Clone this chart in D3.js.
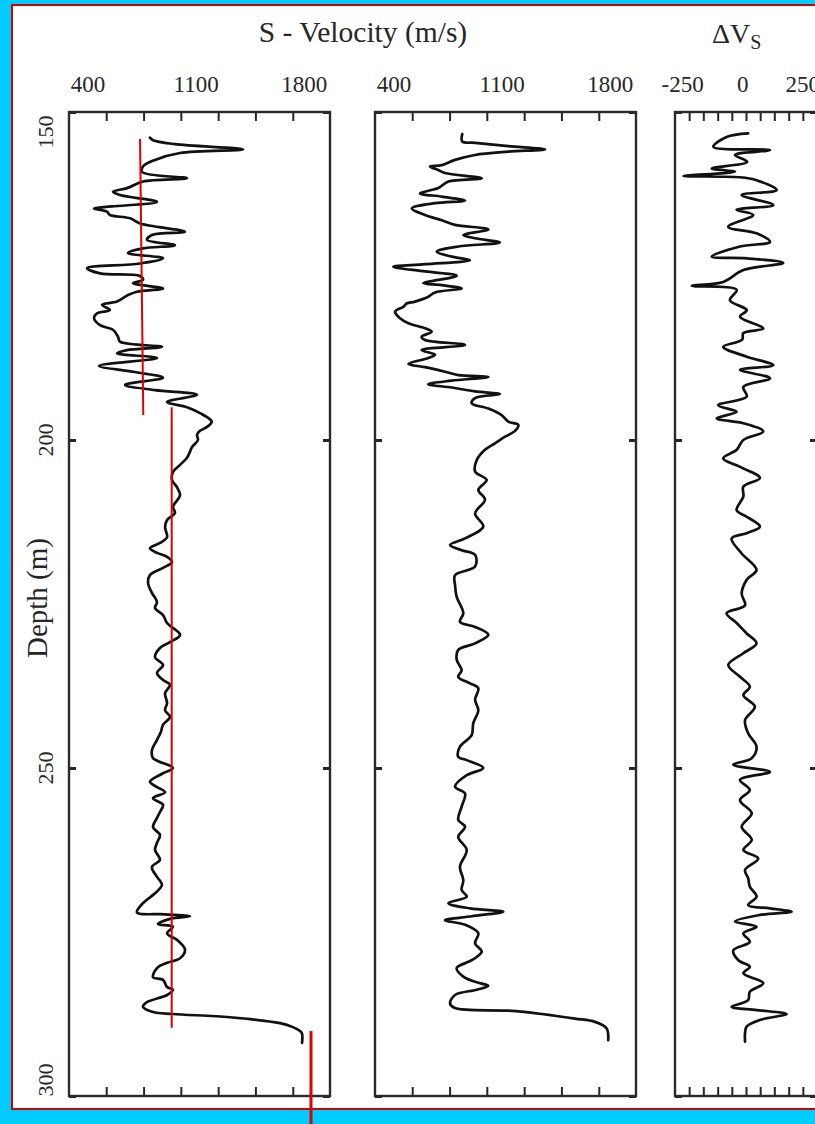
<!DOCTYPE html>
<html><head><meta charset="utf-8">
<script src="https://d3js.org/d3.v7.min.js"></script>
<style>
  body { margin: 0; background: #00ccff; }
  svg { display: block; }
</style>
</head><body>
<script>
// S-velocity log, left panel: depth (m) / Vs (m/s)
const depthA = [153.9,154.3,154.9,155.7,156.25,157.3,158.3,159.15,160.1,160.6,161.6,162.15,162.65,163.7,164.4,164.7,165.2,165.7,166.2,167.0,
  168.25,168.75,169.5,170.3,170.8,171.5,172.3,173.1,173.8,174.6,175.0,175.6,176.1,176.9,177.4,177.9,178.9,179.4,180.2,180.7,
  181.4,182.5,183.2,184.25,185.0,185.8,186.3,186.8,187.5,188.7,189.6,190.5,191.6,192.4,193.1,194.2,195.0,195.9,197.2,198.0,
  198.6,199.2,200.0,201.1,201.8,202.7,203.8,204.9,206.1,207.2,208.4,210.2,211.1,212.2,213.3,214.8,215.7,216.5,217.2,217.8,
  218.6,219.5,220.6,221.8,223.3,224.7,225.6,226.7,227.9,229.7,230.8,231.7,233.1,234.3,235.5,236.6,237.3,238.6,240.1,241.2,
  242.2,243.4,244.5,245.7,247.3,248.5,250.0,250.8,252.1,252.9,253.7,254.6,255.6,256.7,257.6,259.0,260.2,261.4,262.5,264.0,
  265.1,266.6,267.8,269.1,270.6,272.0,272.3,272.6,273.0,273.8,274.2,275.2,276.2,277.7,279.0,279.7,280.5,281.9,282.3,283.4,
  283.8,284.6,285.7,286.4,287.2,287.5,288.0,288.9,289.5,290.1,290.5,291.9];
const vsA = [804,824,966,1407,999,837,759,753,1044,759,656,565,610,850,558,442,526,545,675,740,
  1031,817,785,966,759,662,889,740,397,481,740,759,694,889,720,662,591,494,545,461,
  442,481,565,597,610,882,656,591,850,474,694,889,643,837,1109,915,1044,1128,1204,1174,
  1128,1109,1115,1076,1063,1044,999,953,947,979,999,953,966,915,902,915,869,804,850,915,
  947,889,804,792,817,850,837,889,915,999,934,869,837,889,850,889,934,902,915,902,
  934,889,875,850,817,824,953,889,804,850,902,824,889,869,850,824,869,850,837,869,
  817,850,882,837,759,720,902,1063,934,856,953,915,979,1031,999,915,850,824,889,915,
  953,915,785,759,824,953,1322,1646,1730,1776,1789,1789];

// S-velocity log, middle panel
const depthB = [153.35,154.5,154.7,155.2,155.7,156.05,156.55,157.3,158.1,158.3,158.85,159.3,160.1,160.6,161.6,162.4,162.9,163.5,163.9,164.7,
  165.7,166.5,167.2,167.9,168.75,169.25,169.9,170.5,171.3,172.05,172.6,173.2,173.6,174.3,174.95,176.1,176.4,176.9,177.5,178.15,
  178.9,179.2,179.7,180.45,181.45,182.2,182.97,183.5,184.25,184.75,185.5,186.3,187.0,187.5,188.4,188.9,189.6,190.1,190.4,190.96,
  191.5,192.0,192.6,193.0,193.6,194.4,195.2,196.2,197.2,197.7,198.6,199.5,200.5,201.5,203.05,204.8,206.1,207.6,209.1,211.2,
  213.2,215.0,216.0,216.8,217.5,219.3,220.6,222.1,223.9,226.4,227.7,228.5,229.7,231.0,232.0,233.5,235.1,236.1,237.1,237.85,
  239.6,241.2,243.2,245.0,246.75,248.3,248.8,250.0,251.1,252.85,253.9,255.9,257.9,258.95,260.5,262.5,265.05,267.1,268.6,269.6,
  270.6,271.4,271.9,272.6,273.2,273.9,275.2,276.7,278.0,279.3,280.5,281.8,282.6,283.2,283.8,284.6,285.9,286.6,287.0,287.5,
  288.2,288.7,289.7,291.5];
const vsB = [845,845,928,1143,1381,1143,928,798,712,636,690,733,971,755,690,571,712,863,669,518,
  604,712,798,1014,852,928,1089,819,680,777,895,604,398,604,809,593,712,841,669,625,
  539,485,463,410,442,496,604,647,582,604,863,582,669,625,496,604,733,819,1014,777,
  625,777,928,1089,928,906,1014,1100,1143,1208,1187,1122,1057,992,939,928,1003,949,992,928,
  981,863,766,841,928,928,798,798,809,852,830,928,1014,928,819,809,841,819,895,949,
  928,949,916,906,830,819,874,981,874,798,863,841,819,863,819,874,830,852,841,874,
  755,895,1111,906,733,863,949,928,971,906,809,852,928,1014,939,798,766,798,1143,1359,
  1575,1705,1780,1790];

// delta Vs, right panel
const depthC = [153.25,153.8,155.3,155.8,156.55,157.6,158.6,159.1,159.75,159.95,160.4,161.9,162.65,164.2,164.9,165.7,167.5,168.5,169.8,170.5,
  172.05,172.3,173.0,174.1,175.9,176.5,177.1,178.7,180.2,181.2,183.0,183.7,184.7,185.8,187.3,188.6,189.3,190.6,191.9,193.4,
  194.7,195.7,196.7,197.45,198.7,200.0,201.5,202.8,204.1,205.8,207.1,208.6,210.7,211.7,213.2,214.2,215.0,217.3,219.8,221.3,
  223.4,225.2,226.4,227.9,229.5,231.0,232.5,234.3,236.1,237.6,238.9,240.65,242.7,244.7,246.75,248.5,249.5,250.6,251.8,253.35,
  254.9,256.9,258.95,260.95,262.5,263.8,265.55,266.8,268.1,269.6,270.9,271.4,271.9,272.4,273.4,274.2,275.2,276.5,277.8,279.3,
  280.3,281.3,282.8,284.1,285.4,286.4,286.9,287.5,288.4,289.4,290.4,291.7];
const dVs = [25,-65,-120,116,-30,21,-127,-30,-245,-9,60,144,-2,130,-23,46,-58,60,116,-9,
  -127,19,171,5,-79,-210,-23,-51,19,-9,88,5,0,-79,19,130,-9,116,5,19,
  -100,-23,-106,5,88,5,-23,-79,-9,74,5,5,-23,19,74,19,-44,-2,60,19,
  -2,12,-65,-23,19,60,5,-58,-9,32,5,53,12,25,60,40,-37,116,-9,32,
  -9,40,-2,40,5,67,12,25,32,60,25,116,206,74,-30,60,5,32,-37,-16,
  32,5,88,32,25,-44,60,185,74,19,12,12];

const depthTicks = [150, 200, 250, 300];
const vsLabels = [400, 1100, 1800];
const vsTicks = [521, 763, 1004, 1246, 1487, 1729];
const dvLabels = [-250, 0, 250];
const dvTicks = [-221, -162, -102, -43, 16, 75, 134, 194, 253];

// red marker lines over the left log: Vs at top / bottom, depth from / to
const markVsTop = [740, 945, 1847];
const markVsBot = [761, 945, 1847];
const markFrom = [154.1, 195.0, 290.1];
const markTo = [196.2, 289.6, 304.3];
const markWidth = [2, 2, 3];

const serif = "'Liberation Serif', 'Times New Roman', serif";
const ink = "#262626";

const svg = d3.select("body").append("svg").attr("width", 815).attr("height", 1124);

// white sheet with thin red edge
svg.append("rect")
  .attr("x", 12).attr("y", 5).attr("width", 830).attr("height", 1104)
  .attr("fill", "#fff").attr("stroke", "#d40000").attr("stroke-width", 2);

const yTop = 112, yBot = 1096;
const y = d3.scaleLinear().domain([150, 300]).range([yTop, yBot]);

const panels = [
  {x0: 69, w: 261, dom: [280, 1970], depth: depthA, val: vsA, labels: vsLabels, ticks: vsTicks},
  {x0: 375, w: 261, dom: [280, 1970], depth: depthB, val: vsB, labels: vsLabels, ticks: vsTicks},
  {x0: 675, w: 142, dom: [-280, 312], depth: depthC, val: dVs, labels: dvLabels, ticks: dvTicks}
];

function tidy(a, sw) {
  a.select(".domain").remove();
  a.selectAll(".tick line").attr("stroke", ink).attr("stroke-width", sw);
}

const xs = [];
panels.forEach(p => {
  const x = d3.scaleLinear().domain(p.dom).range([p.x0, p.x0 + p.w]);
  xs.push(x);
  const g = svg.append("g");

  g.append("g").attr("transform", `translate(0,${yTop})`)
    .call(d3.axisBottom(x).tickValues(p.ticks).tickSize(9).tickFormat(""))
    .call(a => tidy(a, 2));
  g.append("g").attr("transform", `translate(0,${yBot})`)
    .call(d3.axisTop(x).tickValues(p.ticks).tickSize(9).tickFormat(""))
    .call(a => tidy(a, 2));

  g.append("g").attr("transform", `translate(0,${yTop})`)
    .call(d3.axisTop(x).tickValues(p.labels).tickSize(0).tickPadding(20).tickFormat(d => String(d)))
    .call(a => a.select(".domain").remove())
    .selectAll("text")
      .attr("font-family", serif).attr("font-size", 23).attr("fill", ink);

  g.append("g").attr("transform", `translate(${p.x0},0)`)
    .call(d3.axisRight(y).tickValues(depthTicks).tickSize(7).tickFormat(""))
    .call(a => tidy(a, 3));
  g.append("g").attr("transform", `translate(${p.x0 + p.w},0)`)
    .call(d3.axisLeft(y).tickValues(depthTicks).tickSize(7).tickFormat(""))
    .call(a => tidy(a, 3));

  g.append("rect")
    .attr("x", p.x0).attr("y", yTop).attr("width", p.w).attr("height", yBot - yTop)
    .attr("fill", "none").attr("stroke", "#2a2a2a").attr("stroke-width", 2.4);

  const line = d3.line()
    .x(d => x(d[1])).y(d => y(d[0]))
    .curve(d3.curveCatmullRom.alpha(0.5));
  g.append("path")
    .datum(d3.zip(p.depth, p.val))
    .attr("d", line)
    .attr("fill", "none").attr("stroke", "#111").attr("stroke-width", 2.7)
    .attr("stroke-linejoin", "round").attr("stroke-linecap", "round");
});

// depth labels
svg.append("g").selectAll("text")
  .data(depthTicks)
  .join("text")
    .attr("transform", d => `translate(53,${Math.min(Math.max(y(d), yTop + 20), yBot - 16)}) rotate(-90)`)
    .attr("text-anchor", "middle")
    .attr("font-family", serif).attr("font-size", 22).attr("fill", ink)
    .text(d => d);

svg.append("text")
  .attr("transform", "translate(47,598) rotate(-90)")
  .attr("text-anchor", "middle")
  .attr("font-family", serif).attr("font-size", 29).attr("fill", ink)
  .text("Depth (m)");

svg.append("text")
  .attr("x", 363).attr("y", 42)
  .attr("text-anchor", "middle")
  .attr("font-family", serif).attr("font-size", 29.5).attr("fill", ink)
  .text("S - Velocity (m/s)");

const dv = svg.append("text")
  .attr("x", 712).attr("y", 43)
  .attr("font-family", serif).attr("font-size", 28).attr("fill", ink);
dv.append("tspan").text("\u0394V");
dv.append("tspan").attr("font-size", 20).attr("dy", 6).text("S");

// red marker lines, drawn on top
const xv = xs[0];
svg.append("g").selectAll("line")
  .data(d3.range(markFrom.length))
  .join("line")
    .attr("x1", i => xv(markVsTop[i])).attr("y1", i => y(markFrom[i]))
    .attr("x2", i => xv(markVsBot[i])).attr("y2", i => y(markTo[i]))
    .attr("stroke", "#e00000").attr("stroke-width", i => markWidth[i]);
</script>
</body></html>
